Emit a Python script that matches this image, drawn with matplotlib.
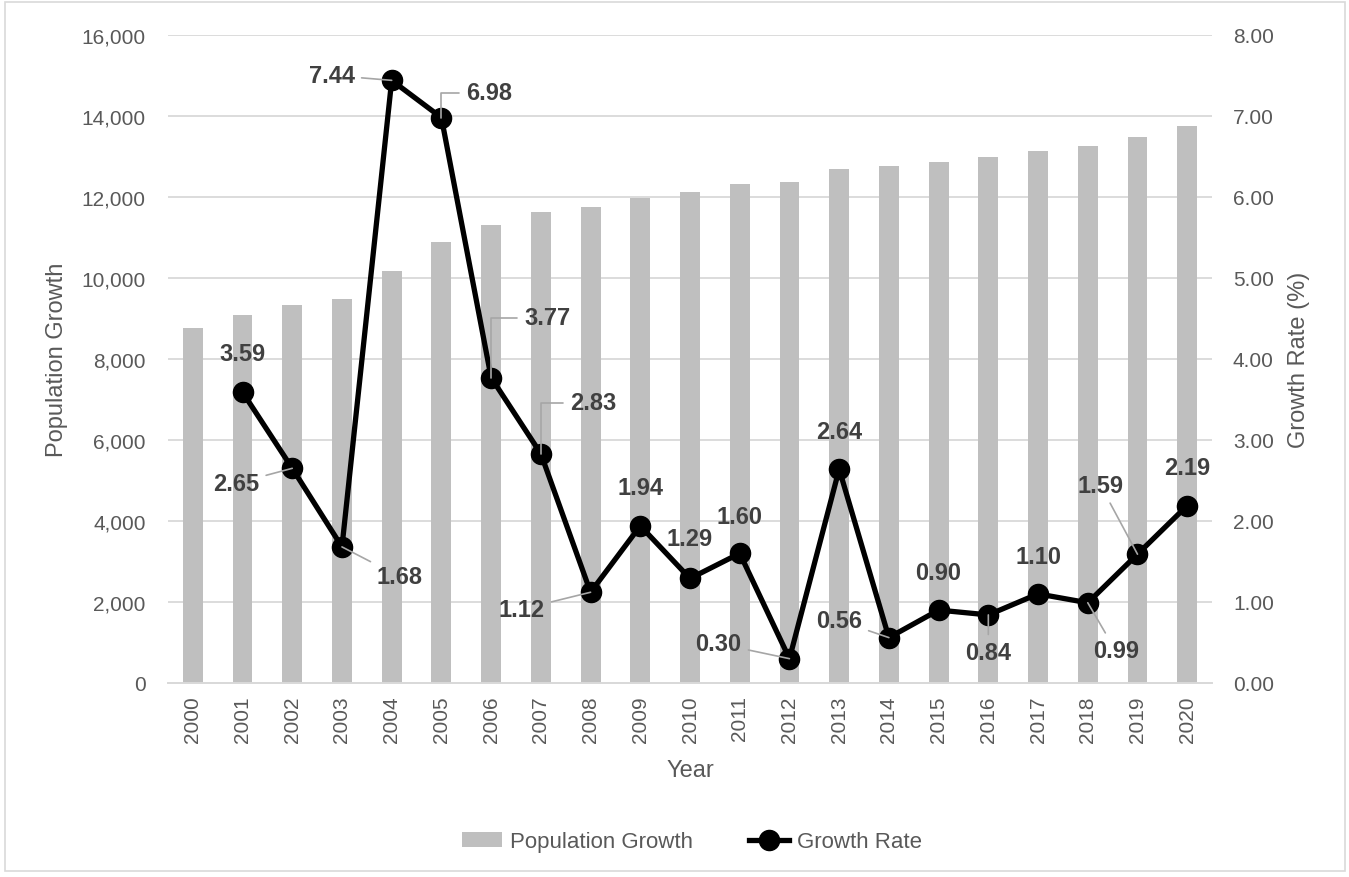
import matplotlib.pyplot as plt
import matplotlib.ticker as mticker
from matplotlib.patches import Rectangle
import numpy as np

plt.rcParams["font.family"] = ["Liberation Sans", "DejaVu Sans"]

# data
years = list(range(2000, 2021))
population = [8765, 9086, 9325, 9474, 10180, 10888, 11301, 11622, 11752, 11983,
              12130, 12328, 12362, 12691, 12765, 12871, 12987, 13128, 13259, 13473, 13760]
growth_rate = [np.nan, 3.59, 2.65, 1.68, 7.44, 6.98, 3.77, 2.83, 1.12, 1.94,
               1.29, 1.60, 0.30, 2.64, 0.56, 0.90, 0.84, 1.10, 0.99, 1.59, 2.19]

# label offsets in pixels: (dx, dy, leader) leader 0 = none, 1 = straight, 2 = elbow
label_pos = [None, (0, 39, 0), (-56, -15, 1), (58, -30, 1), (-60, 5, 1),
             (48, 25, 2), (56, 60, 2), (52, 51, 2), (-69, -17, 1),
             (0, 38, 0), (0, 40, 0), (0, 37, 0), (-71, 15, 1),
             (0, 38, 0), (-50, 17, 1), (0, 38, 0), (0, -38, 1),
             (0, 37, 0), (28, -48, 1), (-37, 69, 1), (0, 38, 0)]

TXT = "#595959"
GRID = "#d9d9d9"

fig = plt.figure(figsize=(13.49, 8.78), dpi=100)
ax = fig.add_axes([0.1245, 0.221, 0.774, 0.738])
ax2 = ax.twinx()

x = np.arange(len(years))
ax.bar(x, population, width=0.4, color="#bfbfbf", label="Population Growth", zorder=2)
ax.set_ylim(0, 16000)
ax.set_xlim(-0.5, len(years) - 0.5)
ax.yaxis.set_major_locator(mticker.MultipleLocator(2000))
ax.yaxis.set_major_formatter(mticker.StrMethodFormatter("{x:,.0f}"))
ax.grid(axis="y", color=GRID, linewidth=1.3, zorder=0)
ax.set_axisbelow(True)
ax.set_xticks(x)
ax.set_xticklabels([str(y) for y in years], rotation=90)
ax.tick_params(axis="y", length=0, labelsize=15, labelcolor=TXT, pad=16)
ax.tick_params(axis="x", length=0, labelsize=15, labelcolor=TXT, pad=9)

ax2.plot(x, growth_rate, color="black", linewidth=3.8, marker="o", markersize=14.5,
         label="Growth Rate", zorder=3)
ax2.set_ylim(0, 8)
ax2.yaxis.set_major_locator(mticker.MultipleLocator(1))
ax2.yaxis.set_major_formatter(mticker.StrMethodFormatter("{x:.2f}"))
ax2.tick_params(axis="y", length=0, labelsize=15, labelcolor=TXT, pad=15)

for a in (ax, ax2):
    for s in ("top", "left", "right"):
        a.spines[s].set_visible(False)
    a.spines["bottom"].set_color(GRID)
    a.spines["bottom"].set_linewidth(1.3)

for i, v in enumerate(growth_rate):
    if label_pos[i] is None:
        continue
    dx, dy, leader = label_pos[i]
    kw = {}
    if leader == 1:
        kw["arrowprops"] = dict(arrowstyle="-", color="#a6a6a6", lw=1.2,
                                shrinkA=3, shrinkB=0)
    elif leader == 2:
        kw["arrowprops"] = dict(arrowstyle="-", color="#a6a6a6", lw=1.2,
                                shrinkA=3, shrinkB=0,
                                connectionstyle="angle,angleA=0,angleB=90,rad=0")
    ax2.annotate(f"{v:.2f}", (x[i], v), xytext=(dx, dy), textcoords="offset pixels",
                 ha="center", va="center", fontsize=17, fontweight="bold",
                 color="#404040", zorder=5, **kw)

ax.set_ylabel("Population Growth", fontsize=17, color=TXT, labelpad=10)
ax2.set_ylabel("Growth Rate (%)", fontsize=17, color=TXT, labelpad=10)
ax.set_xlabel("Year", fontsize=17, color=TXT, labelpad=12)

h1, l1 = ax.get_legend_handles_labels()
h2, l2 = ax2.get_legend_handles_labels()
fig.legend(h1 + h2, l1 + l2, loc="center", bbox_to_anchor=(0.513, 0.04), ncol=2,
           frameon=False, fontsize=16, labelcolor=TXT, handlelength=1.8,
           columnspacing=2.5, handletextpad=0.35)

fig.patches.append(Rectangle((0.004, 0.007), 0.993, 0.99, transform=fig.transFigure,
                             fill=False, edgecolor=GRID, linewidth=1.2))

fig.savefig("out.png", dpi=100)
